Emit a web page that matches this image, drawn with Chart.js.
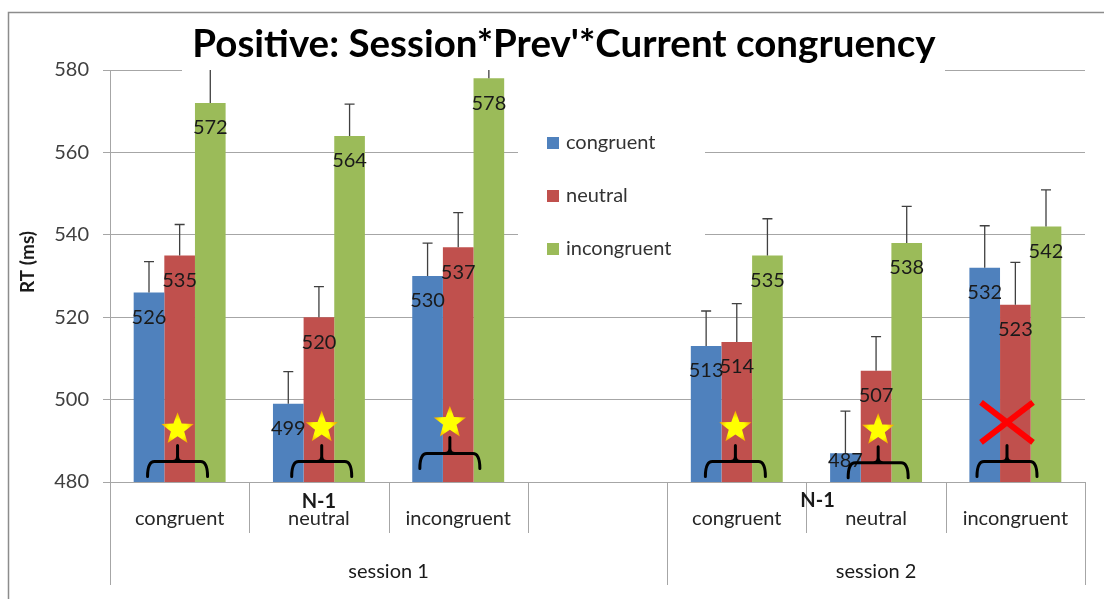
<!DOCTYPE html>
<html><head><meta charset="utf-8">
<script src="https://cdn.jsdelivr.net/npm/chart.js@4.4.1/dist/chart.umd.min.js"></script>
<style>html,body{margin:0;padding:0;background:#fff;}canvas{display:block;}</style>
</head><body>
<canvas id="c" width="1104" height="599"></canvas>
<script>
// ---- data ----
const titleText = "Positive: Session*Prev'*Current congruency";
const yAxisTitle = 'RT (ms)';
const categories = ['congruent', 'neutral', 'incongruent', '', 'congruent', 'neutral', 'incongruent'];
const groupTitle = 'N-1';
const sessionLabels = ['session 1', 'session 2'];
const sessionFirstCat = [0, 4];
const sessionLastCat = [3, 6];
const seriesNames = ['congruent', 'neutral', 'incongruent'];
const congruentRT = [526, 499, 530, null, 513, 487, 532];
const neutralRT = [535, 520, 537, null, 514, 507, 523];
const incongruentRT = [572, 564, 578, null, 535, 538, 542];
const congruentSE = [7.5, 7.8, 8.0, null, 8.5, 10.2, 10.2];
const neutralSE = [7.5, 7.4, 8.4, null, 9.3, 8.3, 10.3];
const incongruentSE = [9.0, 7.7, 9.0, null, 8.9, 8.9, 8.9];
const yMin = 480, yMax = 580, yStep = 20;
// significance markers drawn under each group
const markerCats = [0, 1, 2, 4, 5, 6];
const markerKinds = ['star', 'star', 'star', 'star', 'star', 'cross'];
const markerShift = [-0.015, 0.02, -0.06, -0.01, 0.015, -0.06];
const markerLevel = [492.8, 493.2, 494.4, 493.2, 492.6, 494.5];
const braceLevel = [485.0, 485.0, 486.9, 485.0, 484.7, 485.0];

const colors = ['#4F81BD', '#C0504D', '#9BBB59'];
const FONT = 'Lato, "Liberation Sans", sans-serif';
const seriesValues = [congruentRT, neutralRT, incongruentRT];
const seriesSE = [congruentSE, neutralSE, incongruentSE];

function drawStar(ctx, cx, cy, R, r) {
  ctx.beginPath();
  for (let k = 0; k < 10; k++) {
    const ang = -Math.PI / 2 + k * Math.PI / 5;
    const rad = k % 2 === 0 ? R : r;
    const x = cx + rad * Math.cos(ang), y = cy + rad * Math.sin(ang);
    if (k === 0) ctx.moveTo(x, y); else ctx.lineTo(x, y);
  }
  ctx.closePath();
  const g = ctx.createRadialGradient(cx, cy, 2, cx, cy, R);
  g.addColorStop(0, '#ffff00');
  g.addColorStop(0.5, '#ffff00');
  g.addColorStop(1, '#f39c00');
  ctx.fillStyle = g;
  ctx.fill();
}

function drawBrace(ctx, xc, yh, half, leg, tick) {
  ctx.beginPath();
  ctx.moveTo(xc - half, yh + leg);
  ctx.quadraticCurveTo(xc - half, yh, xc - half + 7, yh);
  ctx.lineTo(xc + half - 7, yh);
  ctx.quadraticCurveTo(xc + half, yh, xc + half, yh + leg);
  ctx.moveTo(xc - 5, yh);
  ctx.quadraticCurveTo(xc, yh, xc, yh - 5);
  ctx.lineTo(xc, yh - tick);
  ctx.moveTo(xc + 5, yh);
  ctx.quadraticCurveTo(xc, yh, xc, yh - 5);
  ctx.stroke();
}

const decor = {
  id: 'decor',
  beforeDatasetsDraw(chart) {
    const ctx = chart.ctx;
    ctx.save();
    ctx.fillStyle = '#ffffff';
    ctx.fillRect(182, 14, 763, 57.5);
    ctx.fillRect(518, 105, 187, 170);
    ctx.restore();
  },
  afterDatasetsDraw(chart) {
    const ctx = chart.ctx, ys = chart.scales.y, xs = chart.scales.x, ca = chart.chartArea;
    ctx.save();
    // error bars (clipped to plot)
    ctx.save();
    ctx.beginPath();
    ctx.rect(ca.left, ca.top, ca.right - ca.left, ca.bottom - ca.top);
    ctx.clip();
    ctx.strokeStyle = '#404040';
    ctx.lineWidth = 1.3;
    chart.data.datasets.forEach((ds, i) => {
      const meta = chart.getDatasetMeta(i);
      meta.data.forEach((bar, j) => {
        const v = seriesValues[i][j], se = seriesSE[i][j];
        if (v == null || se == null) return;
        const yTop = ys.getPixelForValue(v);
        const yE = ys.getPixelForValue(v + se);
        ctx.beginPath();
        ctx.moveTo(bar.x, yTop);
        ctx.lineTo(bar.x, yE);
        ctx.moveTo(bar.x - 5, yE);
        ctx.lineTo(bar.x + 5, yE);
        ctx.stroke();
      });
    });
    ctx.restore();
    // value labels
    ctx.font = '20px ' + FONT;
    ctx.fillStyle = '#1a1a1a';
    ctx.textAlign = 'center';
    ctx.textBaseline = 'middle';
    const yBase = ys.getPixelForValue(yMin);
    chart.data.datasets.forEach((ds, i) => {
      const meta = chart.getDatasetMeta(i);
      meta.data.forEach((bar, j) => {
        const v = seriesValues[i][j];
        if (v == null) return;
        const yTop = ys.getPixelForValue(v);
        const h = yBase - yTop;
        const off = h > 60 ? 25 : 7;
        ctx.fillText(String(Math.round(v)), bar.x, yTop + off);
      });
    });
    // markers
    const cw = xs.getPixelForValue(1) - xs.getPixelForValue(0);
    markerCats.forEach((c, k) => {
      const xc = xs.getPixelForValue(c) + markerShift[k] * cw;
      const ym = ys.getPixelForValue(markerLevel[k]);
      if (markerKinds[k] === 'star') {
        drawStar(ctx, xc, ym, 17, 7);
      } else {
        ctx.strokeStyle = '#ff0000';
        ctx.lineWidth = 6;
        ctx.lineCap = 'butt';
        ctx.beginPath();
        ctx.moveTo(xc - 26, ym - 20); ctx.lineTo(xc + 26, ym + 20);
        ctx.moveTo(xc + 26, ym - 20); ctx.lineTo(xc - 26, ym + 20);
        ctx.stroke();
      }
      ctx.strokeStyle = '#000000';
      ctx.lineWidth = 3;
      ctx.lineCap = 'round';
      drawBrace(ctx, xc, ys.getPixelForValue(braceLevel[k]), 30, 15, 16);
    });
    ctx.restore();
  },
  afterDraw(chart) {
    const ctx = chart.ctx, xs = chart.scales.x, ca = chart.chartArea;
    const cw = xs.getPixelForValue(1) - xs.getPixelForValue(0);
    ctx.save();
    // title
    ctx.fillStyle = '#000';
    ctx.font = 'bold 38.5px ' + FONT;
    ctx.textAlign = 'center';
    ctx.textBaseline = 'alphabetic';
    ctx.fillText(titleText, 564, 57);
    // y title
    ctx.save();
    ctx.translate(28, 262);
    ctx.rotate(-Math.PI / 2);
    ctx.font = 'bold 19px ' + FONT;
    ctx.textBaseline = 'middle';
    ctx.fillStyle = '#1a1a1a';
    ctx.fillText(yAxisTitle, 0, 0);
    ctx.restore();
    // legend
    ctx.font = '20px ' + FONT;
    ctx.textAlign = 'left';
    ctx.textBaseline = 'middle';
    chart.data.datasets.forEach((ds, i) => {
      const cy = 143 + i * 53;
      ctx.fillStyle = ds.backgroundColor;
      ctx.fillRect(547, cy - 6, 12, 12);
      ctx.fillStyle = '#333';
      ctx.fillText(ds.label, 566, cy);
    });
    // category separators
    ctx.strokeStyle = '#a6a6a6';
    ctx.lineWidth = 1;
    const bottom = ca.bottom;
    for (let b = 0; b <= categories.length; b++) {
      const x = Math.round(xs.getPixelForValue(b) - cw / 2) + 0.5;
      const isSession = sessionFirstCat.includes(b) || b === categories.length;
      ctx.beginPath();
      ctx.moveTo(x, bottom);
      ctx.lineTo(x, isSession ? 585 : 533);
      ctx.stroke();
    }
    // N-1 labels and session labels
    ctx.fillStyle = '#1a1a1a';
    ctx.textAlign = 'center';
    ctx.font = 'bold 20px ' + FONT;
    ctx.fillText(groupTitle, xs.getPixelForValue(1), 502);
    ctx.fillText(groupTitle, xs.getPixelForValue(4) + 0.58 * cw, 501);
    ctx.font = '20px ' + FONT;
    sessionLabels.forEach((s, k) => {
      const x0 = xs.getPixelForValue(sessionFirstCat[k]) - cw / 2;
      const x1 = xs.getPixelForValue(sessionLastCat[k]) + cw / 2;
      ctx.fillText(s, (x0 + x1) / 2, 572);
    });
    // outer frame
    ctx.strokeStyle = '#8c8c8c';
    ctx.lineWidth = 1.5;
    ctx.strokeRect(8.5, 12.5, 1200, 700);
    ctx.restore();
  }
};

new Chart(document.getElementById('c'), {
  type: 'bar',
  data: {
    labels: categories,
    datasets: seriesNames.map((n, i) => ({
      label: n,
      data: seriesValues[i],
      backgroundColor: colors[i],
      borderWidth: 0,
      categoryPercentage: 0.66,
      barPercentage: 1.0
    }))
  },
  options: {
    responsive: false,
    animation: false,
    devicePixelRatio: 1,
    layout: { padding: { top: 70, right: 19, left: 0, bottom: 0 } },
    plugins: { legend: { display: false }, tooltip: { enabled: false }, title: { display: false } },
    scales: {
      x: {
        grid: { display: false, drawTicks: false },
        border: { display: false },
        ticks: { font: { family: FONT, size: 20 }, color: '#262626', padding: 25, maxRotation: 0, autoSkip: false },
        afterFit(s) { s.height = 117; }
      },
      y: {
        min: yMin, max: yMax,
        grid: { color: '#a6a6a6', tickLength: 7, lineWidth: 1 },
        border: { color: '#a6a6a6', width: 1 },
        ticks: { stepSize: yStep, font: { family: FONT, size: 20 }, color: '#404040', padding: 14 },
        afterFit(s) { s.width = 110; }
      }
    }
  },
  plugins: [decor]
});
</script>
</body></html>
